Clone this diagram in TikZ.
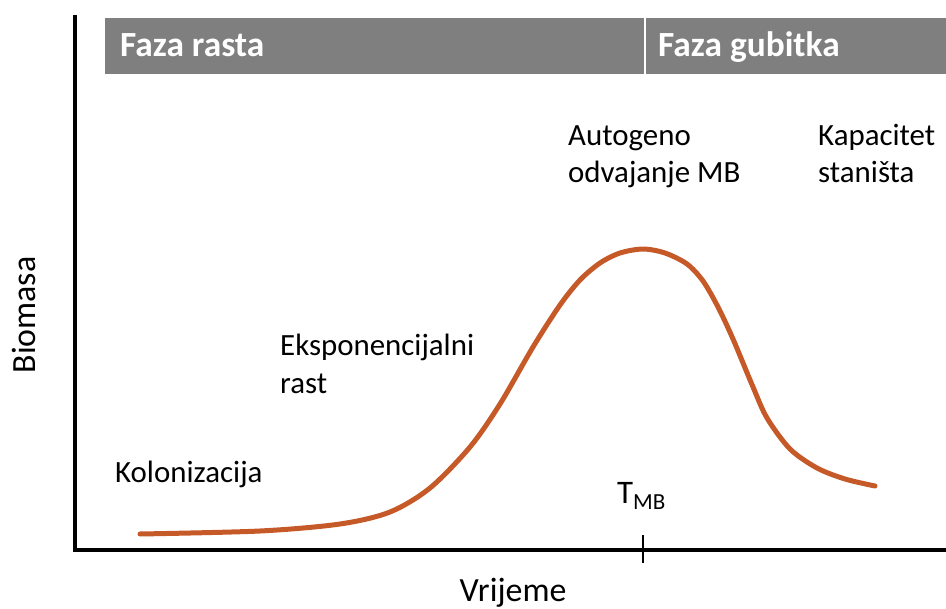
\documentclass[tikz,border=0pt]{standalone}
\usepackage{fontspec}
\setmainfont{Carlito}
\definecolor{curvecol}{HTML}{C55A28}
\definecolor{bandgray}{HTML}{7F7F7F}
\begin{document}
\begin{tikzpicture}[x=1bp,y=-1bp,
  lbl/.style={font=\fontsize{31}{37}\selectfont, inner sep=0pt, align=left},
  axlbl/.style={font=\fontsize{34}{40}\selectfont, inner sep=0pt},
  band/.style={font=\bfseries\fontsize{35.5}{40}\selectfont, text=white, inner sep=0pt},
  axis/.style={line width=3.5bp, black},
  growth/.style={line width=5bp, curvecol, line cap=round, line join=round}]
\useasboundingbox (0,0) rectangle (946,609);
% banner
\fill[bandgray] (105,18) rectangle (946,74);
\draw[white, line width=2bp] (645,18) -- (645,74);
\node[band, anchor=base west] (fr) at (120,57) {Faza rasta};
\node[band, anchor=base west] (fg) at (658,57) {Faza gubitka};
% axes
\coordinate (o) at (75,550);
\coordinate (ytop) at (75,15);
\coordinate (xend) at (946,550);
\draw[axis] (ytop) -- (o) -- (xend);
% tick
\coordinate (tt) at (643,535);
\coordinate (tb) at (643,563);
\draw[line width=1.5bp] (tt) -- (tb);
% curve
\draw[growth] plot[smooth, tension=0.5] coordinates {
 (140,534) (260,531) (340,524) (390,512) (430,488) (470,447) (500,404)
 (533,347) (560,305) (580,280) (600,263) (620,253) (643,249) (665,253)
 (687,264) (703,281) (718,307) (733,339) (753,387) (767,418) (790,449)
 (817,468) (845,479) (875,486)};
% labels
\node[lbl, anchor=base west] (kol) at (115,482) {Kolonizacija};
\node[lbl, anchor=base west] (eks1) at (280,355) {Eksponencijalni};
\node[lbl, anchor=base west] (eks2) at (280,393) {rast};
\node[lbl, anchor=base west] (aut1) at (568,146) {Autogeno};
\node[lbl, anchor=base west] (aut2) at (568,183) {odvajanje MB};
\node[lbl, anchor=base west] (kap1) at (818,146) {Kapacitet};
\node[lbl, anchor=base west] (kap2) at (818,183) {staništa};
\node[lbl, font=\fontsize{33}{37}\selectfont, anchor=base west] (tmb) at (617,503) {T\textsubscript{MB}};
\node[axlbl, anchor=base] (vr) at (513,601) {Vrijeme};
\node[axlbl, anchor=base, rotate=90] (bio) at (35,315) {Biomasa};
\end{tikzpicture}
\end{document}
